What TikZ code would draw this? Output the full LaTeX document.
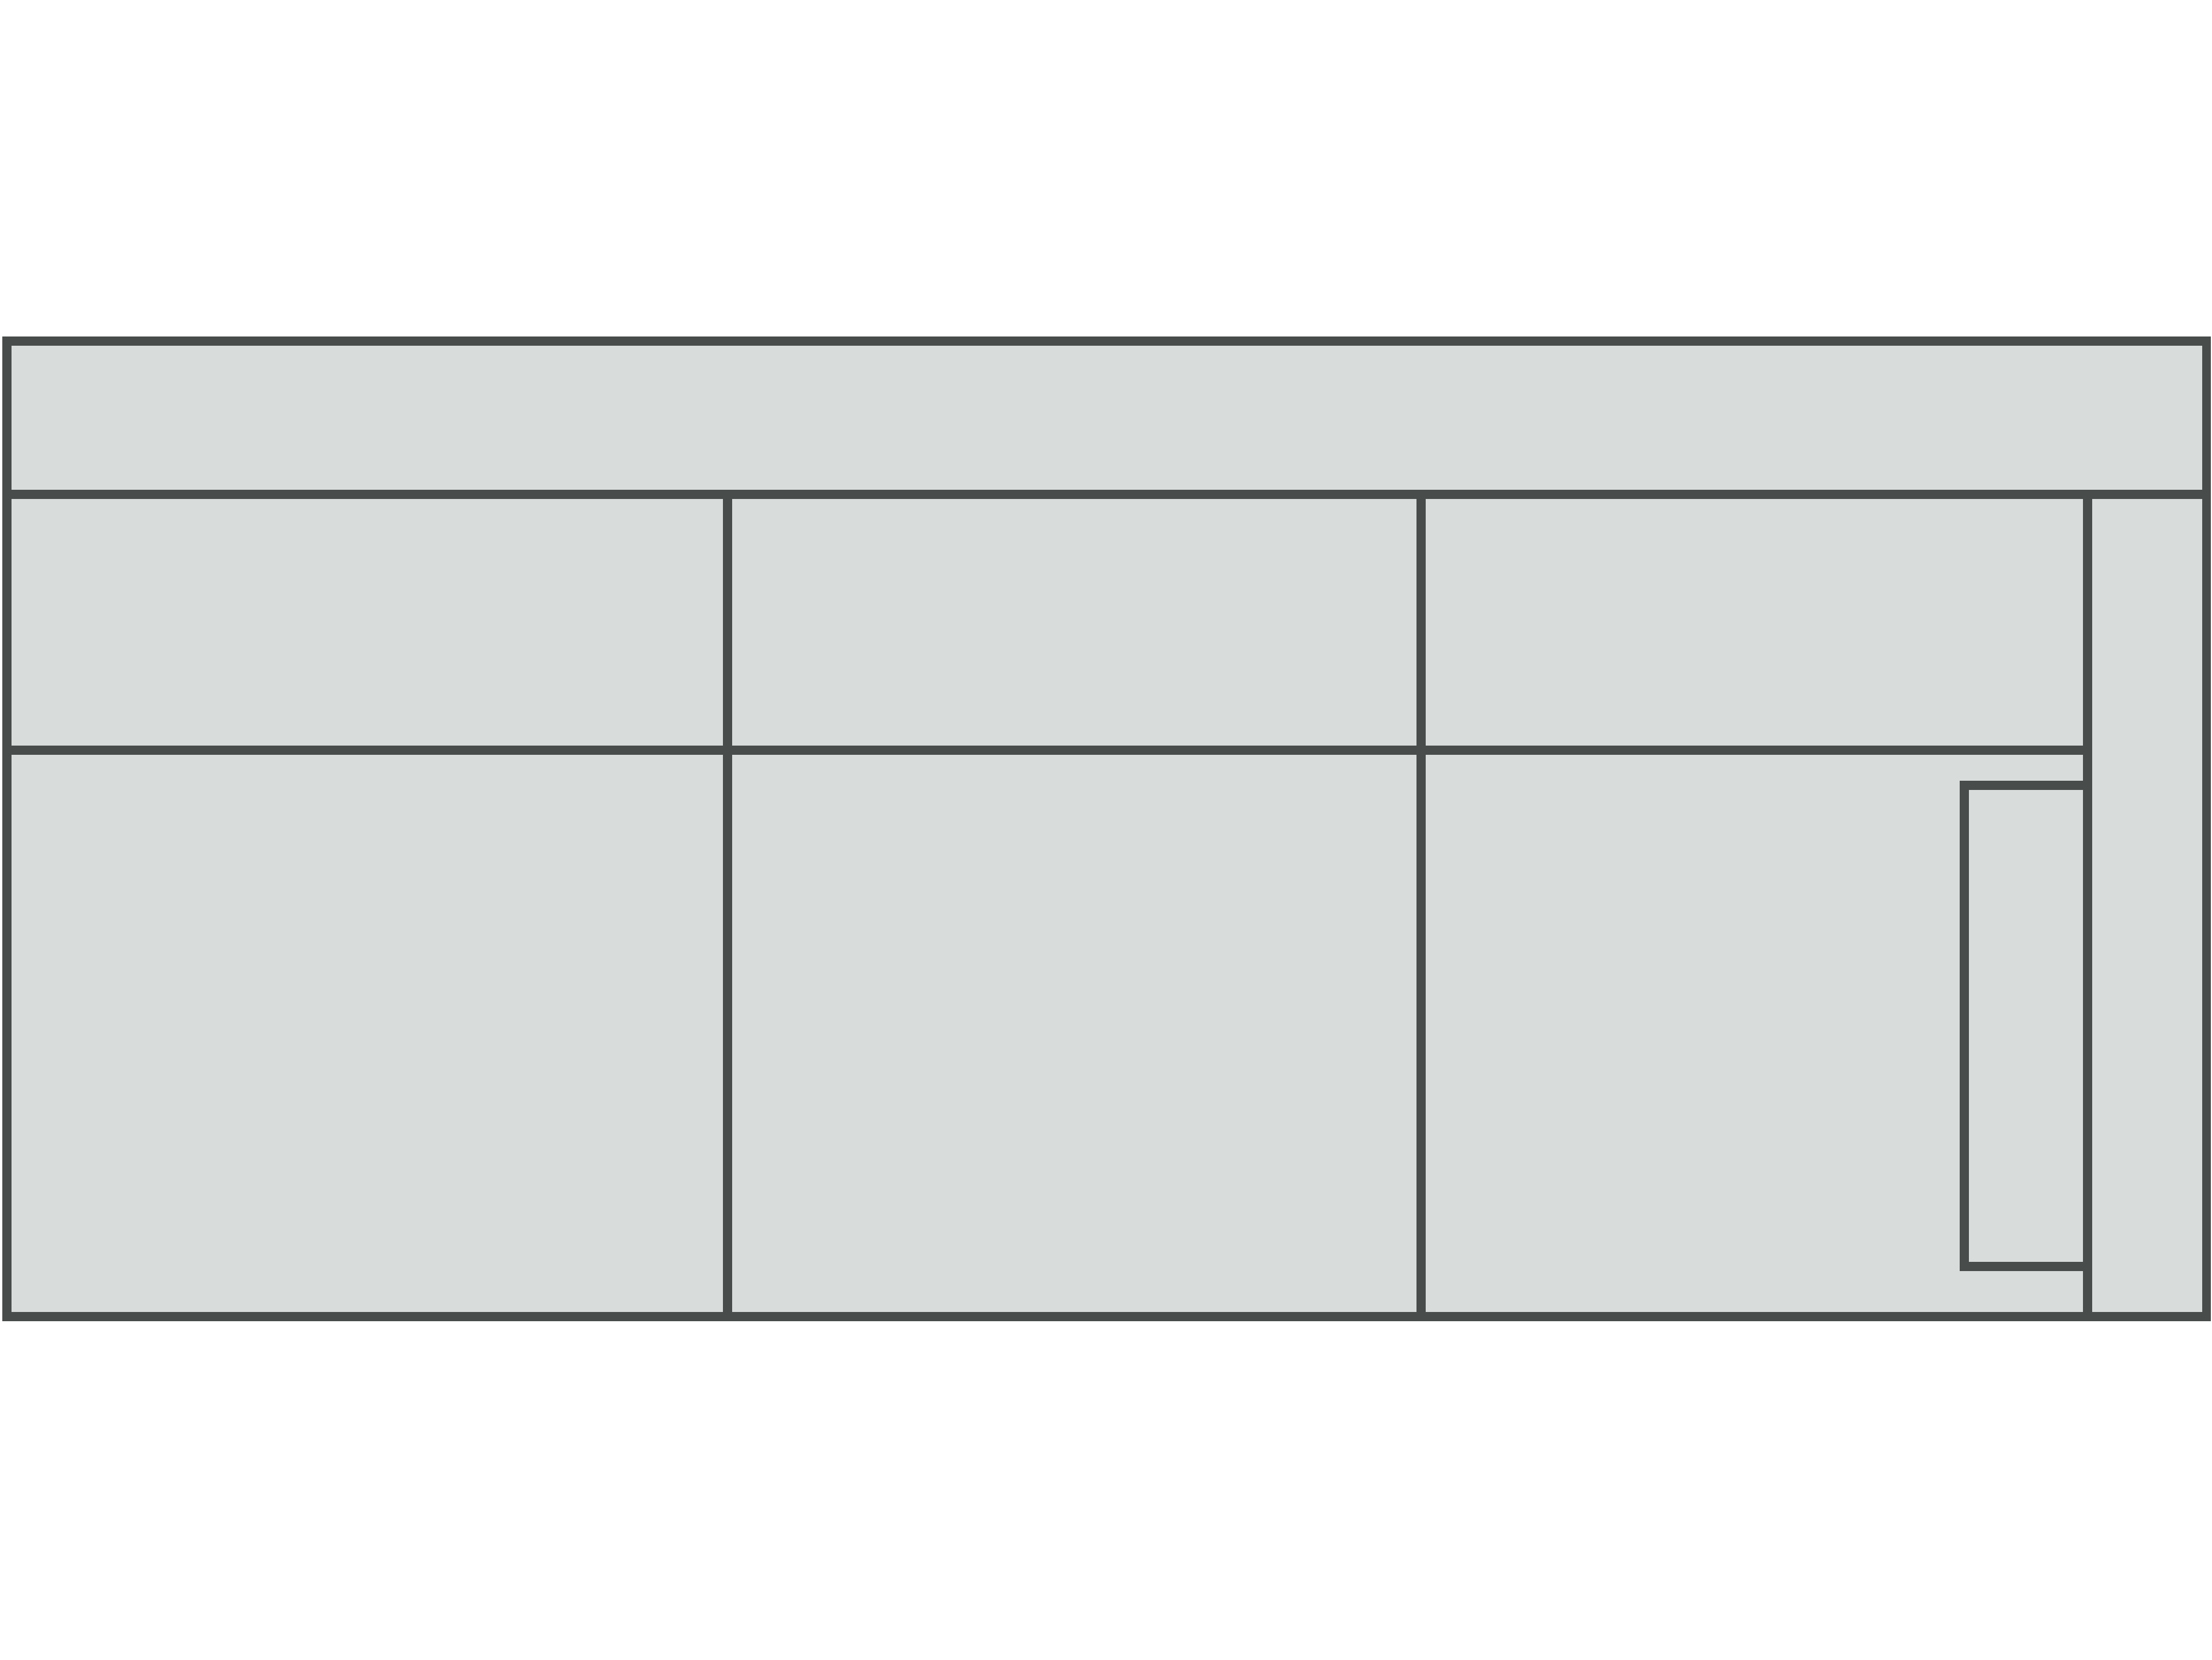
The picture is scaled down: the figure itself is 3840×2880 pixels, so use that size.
\documentclass[tikz,border=0pt]{standalone}
\begin{document}
\begin{tikzpicture}[x=0.01cm,y=-0.01cm,
  outline/.style={draw=lineg,line width=4.3pt,line join=miter},
  ]
\definecolor{fillg}{RGB}{216,220,219}
\definecolor{lineg}{RGB}{72,76,75}
\useasboundingbox (0,0) rectangle (3840,2880);
\fill[white] (0,0) rectangle (3840,2880);
% outer body
\draw[outline,fill=fillg] (12,592) rectangle (3830,2285);
% back cushion line
\draw[outline] (12,858) -- (3830,858);
% seat dividers
\draw[outline] (1263,858) -- (1263,2285);
\draw[outline] (2467,858) -- (2467,2285);
% arm
\draw[outline] (3624,858) -- (3624,2285);
% seat front line
\draw[outline] (12,1302) -- (3624,1302);
% small rectangle
\draw[outline] (3624,1363) -- (3410,1363) -- (3410,2198) -- (3624,2198);
\end{tikzpicture}
\end{document}
